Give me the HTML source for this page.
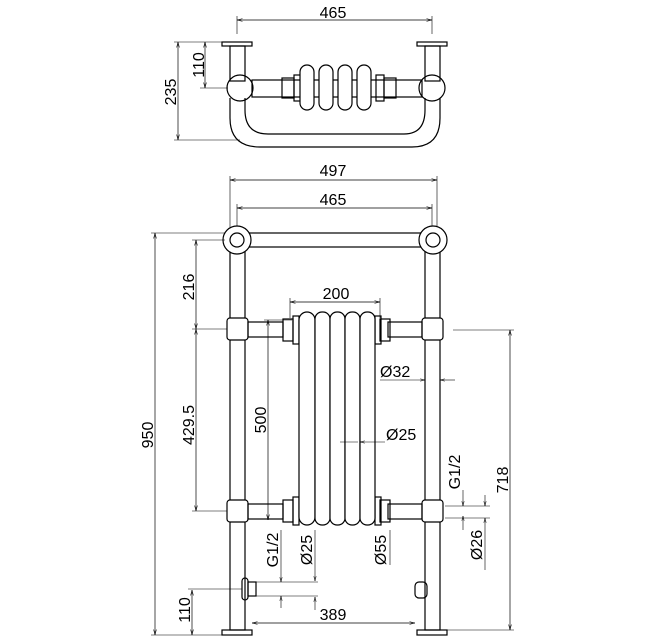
<!DOCTYPE html>
<html><head><style>body{margin:0;background:#fff}svg{display:block}text{font-family:"Liberation Sans",sans-serif;font-size:16px;fill:#000}</style></head><body>
<svg width="650" height="640" viewBox="0 0 650 640" xmlns="http://www.w3.org/2000/svg">
<defs><marker id="a" markerWidth="8" markerHeight="6" refX="8" refY="3" orient="auto-start-reverse"><path d="M0,1 L8,3 L0,5" fill="none" stroke="#000" stroke-width="0.8"/></marker></defs>
<g fill="none" stroke="#000" stroke-width="1.2">
<line x1="237" y1="20" x2="432" y2="20" stroke-width="0.7" marker-start="url(#a)" marker-end="url(#a)"/>
<line x1="237" y1="16" x2="237" y2="34" stroke-width="0.6"/><line x1="432" y1="16" x2="432" y2="34" stroke-width="0.6"/>
<rect x="222" y="42" width="30" height="4"/><rect x="417" y="42" width="30" height="4"/>
<rect x="230" y="46" width="15" height="35"/><rect x="425" y="46" width="15" height="35"/>
<circle cx="240" cy="88" r="13"/><circle cx="432" cy="88" r="13"/>
<rect x="252" y="80" width="170" height="17"/>
<rect x="282" y="78" width="12" height="20"/><rect x="294" y="75" width="8" height="26"/>
<rect x="376" y="75" width="8" height="26"/><rect x="384" y="78" width="12" height="20"/>
<rect x="300" y="65" width="14" height="45" rx="7" fill="#fff"/><rect x="319" y="65" width="14" height="45" rx="7" fill="#fff"/><rect x="338" y="65" width="14" height="45" rx="7" fill="#fff"/><rect x="357" y="65" width="14" height="45" rx="7" fill="#fff"/>
<path d="M230,98 V118 Q230,147 260,147 H412 Q440,147 440,118 V98"/>
<path d="M245,98 V110 Q245,134 268,134 H404 Q425,134 425,110 V98"/>
<line x1="205" y1="42" x2="205" y2="88" stroke-width="0.7" marker-start="url(#a)" marker-end="url(#a)"/>
<line x1="200" y1="42" x2="222" y2="42" stroke-width="0.6"/><line x1="200" y1="88" x2="228" y2="88" stroke-width="0.6"/>
<line x1="178" y1="42" x2="178" y2="140" stroke-width="0.7" marker-start="url(#a)" marker-end="url(#a)"/>
<line x1="174" y1="140" x2="240" y2="140" stroke-width="0.6"/><line x1="174" y1="42" x2="200" y2="42" stroke-width="0.6"/>
<line x1="230" y1="180" x2="437" y2="180" stroke-width="0.7" marker-start="url(#a)" marker-end="url(#a)"/>
<line x1="230" y1="176" x2="230" y2="230" stroke-width="0.6"/><line x1="437" y1="176" x2="437" y2="230" stroke-width="0.6"/>
<line x1="237" y1="208" x2="432" y2="208" stroke-width="0.7" marker-start="url(#a)" marker-end="url(#a)"/>
<line x1="237" y1="204" x2="237" y2="230" stroke-width="0.6"/><line x1="432" y1="204" x2="432" y2="230" stroke-width="0.6"/>
<rect x="230" y="247" width="15" height="383"/><rect x="425" y="247" width="15" height="383"/>
<rect x="240" y="233" width="190" height="14"/>
<circle cx="237" cy="240" r="14" fill="#fff"/><circle cx="237" cy="240" r="7"/>
<circle cx="433" cy="240" r="14" fill="#fff"/><circle cx="433" cy="240" r="7"/>
<rect x="222" y="630" width="30" height="5"/><rect x="417" y="630" width="30" height="5"/>
<rect x="227" y="318" width="21" height="22" rx="3" fill="#fff"/><rect x="422" y="318" width="21" height="22" rx="3" fill="#fff"/>
<rect x="227" y="500" width="21" height="22" rx="3" fill="#fff"/><rect x="422" y="500" width="21" height="22" rx="3" fill="#fff"/>
<rect x="248" y="322" width="35" height="15"/><rect x="388" y="322" width="34" height="15"/>
<rect x="248" y="504" width="35" height="15"/><rect x="388" y="504" width="34" height="15"/>
<rect x="283" y="319" width="10" height="22"/><rect x="293" y="316" width="6" height="28"/>
<rect x="380" y="319" width="10" height="22"/><rect x="375" y="316" width="6" height="28"/>
<rect x="283" y="500" width="10" height="22"/><rect x="293" y="497" width="6" height="28"/>
<rect x="380" y="500" width="10" height="22"/><rect x="375" y="497" width="6" height="28"/>
<rect x="299" y="312" width="16" height="213" rx="8" fill="#fff"/><rect x="315" y="312" width="15" height="213" rx="7" fill="#fff"/><rect x="330" y="312" width="15" height="213" rx="7" fill="#fff"/><rect x="345" y="312" width="15" height="213" rx="7" fill="#fff"/><rect x="360" y="312" width="15" height="213" rx="7" fill="#fff"/>
<rect x="242" y="578" width="6" height="22" rx="3"/><rect x="248" y="582" width="8" height="14"/>
<rect x="415" y="582" width="12" height="16" rx="4"/>
<line x1="155" y1="233" x2="155" y2="635" stroke-width="0.7" marker-start="url(#a)" marker-end="url(#a)"/>
<line x1="151" y1="233" x2="225" y2="233" stroke-width="0.6"/><line x1="151" y1="635" x2="222" y2="635" stroke-width="0.6"/>
<line x1="196" y1="240" x2="196" y2="329" stroke-width="0.7" marker-start="url(#a)" marker-end="url(#a)"/>
<line x1="196" y1="329" x2="196" y2="511" stroke-width="0.7" marker-start="url(#a)" marker-end="url(#a)"/>
<line x1="192" y1="240" x2="225" y2="240" stroke-width="0.6"/><line x1="192" y1="329" x2="227" y2="329" stroke-width="0.6"/><line x1="192" y1="511" x2="227" y2="511" stroke-width="0.6"/>
<line x1="268" y1="320" x2="268" y2="520" stroke-width="0.7" marker-start="url(#a)" marker-end="url(#a)"/>
<line x1="264" y1="320" x2="292" y2="320" stroke-width="0.6"/>
<line x1="290" y1="302" x2="380" y2="302" stroke-width="0.7" marker-start="url(#a)" marker-end="url(#a)"/>
<line x1="290" y1="298" x2="290" y2="318" stroke-width="0.6"/><line x1="380" y1="298" x2="380" y2="318" stroke-width="0.6"/>
<line x1="510" y1="330" x2="510" y2="630" stroke-width="0.7" marker-start="url(#a)" marker-end="url(#a)"/>
<line x1="453" y1="330" x2="514" y2="330" stroke-width="0.6"/><line x1="445" y1="630" x2="514" y2="630" stroke-width="0.6"/>
<line x1="380" y1="380" x2="425" y2="380" stroke-width="0.6" marker-end="url(#a)"/><line x1="455" y1="380" x2="440" y2="380" stroke-width="0.6" marker-end="url(#a)"/>
<line x1="385" y1="442" x2="360" y2="442" stroke-width="0.6" marker-end="url(#a)"/><line x1="358" y1="442" x2="340" y2="442" stroke-width="0.6"/>
<line x1="463" y1="490" x2="463" y2="506" stroke-width="0.6" marker-end="url(#a)"/><line x1="463" y1="530" x2="463" y2="516" stroke-width="0.6" marker-end="url(#a)"/>
<line x1="485" y1="495" x2="485" y2="506" stroke-width="0.6" marker-end="url(#a)"/><line x1="485" y1="570" x2="485" y2="518" stroke-width="0.6" marker-end="url(#a)"/>
<line x1="445" y1="506" x2="490" y2="506" stroke-width="0.6"/><line x1="445" y1="518" x2="490" y2="518" stroke-width="0.6"/>
<line x1="281" y1="530" x2="281" y2="582" stroke-width="0.6" marker-end="url(#a)"/><line x1="281" y1="608" x2="281" y2="596" stroke-width="0.6" marker-end="url(#a)"/>
<line x1="315" y1="530" x2="315" y2="581" stroke-width="0.6" marker-end="url(#a)"/><line x1="315" y1="610" x2="315" y2="597" stroke-width="0.6" marker-end="url(#a)"/>
<line x1="256" y1="582" x2="318" y2="582" stroke-width="0.6"/><line x1="256" y1="596" x2="318" y2="596" stroke-width="0.6"/>
<line x1="390" y1="530" x2="390" y2="565" stroke-width="0.6"/>
<line x1="252" y1="623" x2="415" y2="623" stroke-width="0.7" marker-start="url(#a)" marker-end="url(#a)"/>
<line x1="192" y1="590" x2="192" y2="635" stroke-width="0.7" marker-start="url(#a)" marker-end="url(#a)"/>
<line x1="188" y1="589" x2="242" y2="589" stroke-width="0.6"/>
</g>
<text x="333" y="18" text-anchor="middle">465</text>
<text transform="translate(204,65) rotate(-90)" text-anchor="middle">110</text>
<text transform="translate(176,92) rotate(-90)" text-anchor="middle">235</text>
<text x="333" y="176" text-anchor="middle">497</text>
<text x="333" y="205" text-anchor="middle">465</text>
<text x="336" y="299" text-anchor="middle">200</text>
<text transform="translate(153,435) rotate(-90)" text-anchor="middle">950</text>
<text transform="translate(194,287) rotate(-90)" text-anchor="middle">216</text>
<text transform="translate(194,425) rotate(-90)" text-anchor="middle">429.5</text>
<text transform="translate(266,420) rotate(-90)" text-anchor="middle">500</text>
<text transform="translate(508,480) rotate(-90)" text-anchor="middle">718</text>
<text x="380" y="377">Ø32</text>
<text x="386" y="440">Ø25</text>
<text transform="translate(460,472) rotate(-90)" text-anchor="middle">G1/2</text>
<text transform="translate(482,545) rotate(-90)" text-anchor="middle">Ø26</text>
<text transform="translate(278,550) rotate(-90)" text-anchor="middle">G1/2</text>
<text transform="translate(312,550) rotate(-90)" text-anchor="middle">Ø25</text>
<text transform="translate(386,550) rotate(-90)" text-anchor="middle">Ø55</text>
<text x="333" y="620" text-anchor="middle">389</text>
<text transform="translate(190,610) rotate(-90)" text-anchor="middle">110</text>
</svg>
</body></html>
